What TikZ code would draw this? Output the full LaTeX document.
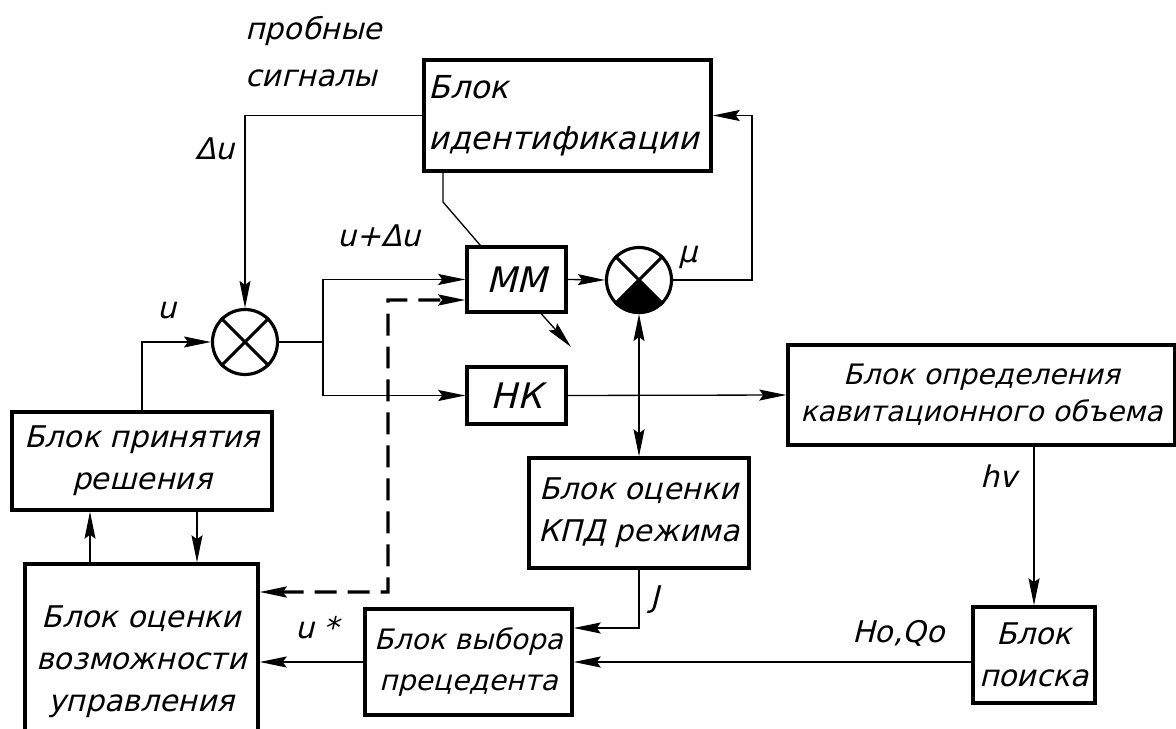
\documentclass[tikz,border=0pt]{standalone}
\usepackage{fontspec}
\newfontfamily\gost{DejaVu Sans}[FakeSlant=0.25]
\usetikzlibrary{arrows.meta,calc}
\tikzset{
  arr/.tip={Stealth[length=0.54cm,width=0.22cm,inset=0.08cm]},
  conn/.style={line width=0.75pt},
  dsh/.style={line width=1.8pt, dash pattern=on 0.44cm off 0.22cm},
  blk/.style={draw, line width=2pt, inner sep=0pt, align=center,
              font=\gost\fontsize{17}{24}\selectfont},
  summ/.style={circle, draw, line width=1.8pt, minimum size=1.3cm, inner sep=0pt},
  lbl/.style={inner sep=0pt, font=\gost\fontsize{17}{24}\selectfont},
}
\begin{document}
\begin{tikzpicture}[x=0.02cm,y=-0.02cm]
\useasboundingbox (0,0) rectangle (1176,729);
% boxes
\node[blk, minimum width=5.74cm, minimum height=2.22cm, text width=5.56cm, align=left,
      inner xsep=0.09cm, font=\gost\fontsize{18}{29}\selectfont] (ident) at (567.5,115.5) {Блок\\идентификации};
\node[blk, minimum width=1.98cm, minimum height=1.30cm, font=\gost\fontsize{20}{24}\selectfont] (MM) at (516.5,279.5) {ММ};
\node[blk, minimum width=1.98cm, minimum height=1.14cm, font=\gost\fontsize{20}{24}\selectfont] (NK) at (516.5,395.5) {НК};
\node[blk, minimum width=7.74cm, minimum height=2.0cm, font=\gost\fontsize{16}{21}\selectfont] (opr) at (981.5,395) {Блок определения\\кавитационного объема};
\node[blk, minimum width=4.4cm, minimum height=2.2cm] (kpd) at (639,513) {Блок оценки\\КПД режима};
\node[blk, minimum width=2.44cm, minimum height=1.92cm] (poisk) at (1034,655) {Блок\\поиска};
\node[blk, minimum width=4.14cm, minimum height=2.12cm, font=\gost\fontsize{16}{23}\selectfont] (vybor) at (468.5,662) {Блок выбора\\прецедента};
\node[blk, minimum width=5.2cm, minimum height=1.96cm] (prin) at (142,461) {Блок принятия\\решения};
\node[blk, minimum width=4.66cm, minimum height=3.92cm] (ocenka) at (141.5,662) {Блок оценки\\возможности\\управления};
% summators
\node[summ] (c1) at (245,342) {};
\draw[line width=1.8pt] (c1.45) -- (c1.-135) (c1.135) -- (c1.-45);
\node[summ] (c2) at (639,280) {};
\fill (c2.center) -- (c2.-135) arc[start angle=-135, end angle=-45, radius=0.67cm] -- cycle;
\draw[line width=1.8pt] (c2.45) -- (c2.-135) (c2.135) -- (c2.-45);
% helper coordinates
\coordinate (bend1) at (443,202);
\coordinate (mmt) at ($(MM.north west)+(15,0)$);
\coordinate (rc) at (752,280);
\coordinate (sp) at (323,342);
\coordinate (dc) at (388,300);
\coordinate (x90) at (90,0);
\coordinate (x197) at (197,0);
\coordinate (la0) at ($(MM.south west)+(76,0)$);
\coordinate (la1) at (571,347);
% connectors
\draw[conn,-arr] (ident.west) -| (c1.north);
\draw[conn] (ident.south -| bend1) -- (bend1) -- (mmt);
\draw[conn,-arr] (c2.east) -- (rc) |- (ident.east);
\draw[conn,-arr] (MM.east) -- (c2.west);
\draw[conn,arr-arr] (c2.south) -- (kpd.north);
\draw[conn] (c1.east) -- (sp);
\draw[conn,-arr] (sp) |- (MM.west);
\draw[conn,-arr] (sp) |- (NK.west);
\draw[conn,-arr] (NK.east) -- (opr.west);
\draw[conn,-arr] (poisk.north |- opr.south) -- (poisk.north);
\draw[conn,-arr] (poisk.west |- vybor.east) -- (vybor.east);
\draw[conn,-arr] (kpd.south) |- ($(vybor.east)+(0,-34)$);
\draw[conn,-arr] (vybor.west) -- (vybor.west -| ocenka.east);
\draw[conn,-arr] (ocenka.north -| x90) -- (prin.south -| x90);
\draw[conn,-arr] (prin.south -| x197) -- (ocenka.north -| x197);
\draw[conn,-arr] (prin.north) |- (c1.west);
\draw[dsh,arr-arr] ($(ocenka.east)+(0,-70)$) -| (dc) -- ($(MM.west)+(0,20.5)$);
\draw[conn,-arr] (la0) -- (la1);
% labels
\node[lbl, anchor=base west] (t1) at (245,40) {пробные};
\node[lbl, anchor=base west] (t2) at (245,87) {сигналы};
\node[lbl, anchor=base west] (du) at (195,160) {Δu};
\node[lbl, anchor=base west] (udu) at (337,247) {u+Δu};
\node[lbl, anchor=base west] (u) at (157,318) {u};
\node[lbl, anchor=base west] (mu) at (678,263) {μ};
\node[lbl, anchor=base west] (hv) at (980,487) {hv};
\node[lbl, anchor=base west] (J) at (650,607) {J};
\node[lbl, anchor=base west] (us) at (295,638) {u *};
\node[lbl, anchor=base west] (hq) at (852,642) {Ho,Qo};
\end{tikzpicture}
\end{document}
